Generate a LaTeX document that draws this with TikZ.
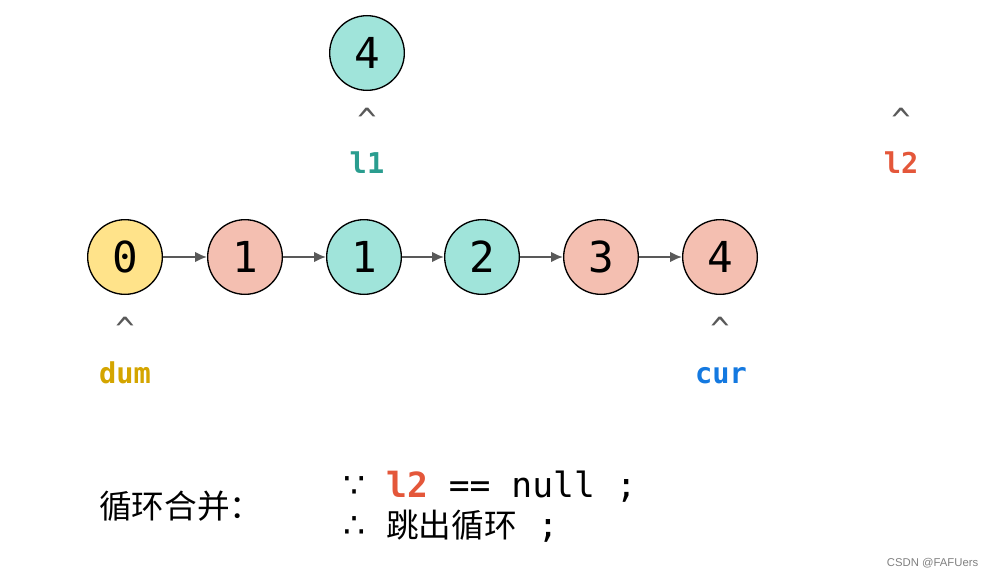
\documentclass[tikz,border=0pt]{standalone}
\usepackage{fontspec}
\newfontfamily\mono{DejaVu Sans Mono}
\newfontfamily\djv{DejaVu Sans}
\newfontfamily\cjk{Noto Sans CJK SC}
\newfontfamily\wm{Liberation Sans}
\usetikzlibrary{arrows.meta}
\definecolor{cyel}{HTML}{FFE38A}
\definecolor{cpink}{HTML}{F4BFB1}
\definecolor{cteal}{HTML}{A0E4DA}
\definecolor{carrow}{HTML}{595959}
\definecolor{lteal}{HTML}{2A9D8F}
\definecolor{lred}{HTML}{E4573A}
\definecolor{lgold}{HTML}{D4A500}
\definecolor{lblue}{HTML}{1479E0}
\begin{document}
\begin{tikzpicture}[x=0.75pt,y=-0.75pt,
  lnode/.style={circle,draw=black,line width=1pt,minimum size=56pt,inner sep=0pt,font=\mono\fontsize{32}{32}\selectfont},
  link/.style={draw=carrow,line width=1.4pt,-{Latex[length=9pt,width=8pt]}},
  caret/.style={text=carrow,font=\mono\fontsize{24}{24}\selectfont},
  lab/.style={anchor=base,inner sep=0pt,font=\mono\bfseries\fontsize{21.5}{21.5}\selectfont}]
\useasboundingbox (0,0) rectangle (995,578);
\node[lnode,fill=cyel]  (n0) at (125,257) {0};
\node[lnode,fill=cpink] (n1) at (245,257) {1};
\node[lnode,fill=cteal] (n2) at (364,257) {1};
\node[lnode,fill=cteal] (n3) at (482,257) {2};
\node[lnode,fill=cpink] (n4) at (601,257) {3};
\node[lnode,fill=cpink] (n5) at (720,257) {4};
\node[lnode,fill=cteal] (t4) at (367,53) {4};
\draw[link] (n0) -- (n1);
\draw[link] (n1) -- (n2);
\draw[link] (n2) -- (n3);
\draw[link] (n3) -- (n4);
\draw[link] (n4) -- (n5);
\node[caret] (c1) at (367,120) {\^{}};
\node[caret] (c2) at (901,120) {\^{}};
\node[caret] (c3) at (125,329) {\^{}};
\node[caret] (c4) at (720,329) {\^{}};
\node[lab,text=lteal] (l1) at (367,173) {l1};
\node[lab,text=lred] (l2) at (901,173) {l2};
\node[lab,text=lgold] (dum) at (125,383) {dum};
\node[lab,text=lblue] (cur) at (721,383) {cur};
\node[anchor=west,inner sep=0pt,font=\cjk\fontsize{24.5}{24.5}\selectfont] (title) at (99,506) {循环合并：};
\node[anchor=west,inner sep=0pt,font=\mono\fontsize{26}{26}\selectfont] (r1) at (343,487) {{\djv ∵} {\bfseries\color{lred}l2} == null ;};
\node[anchor=west,inner sep=0pt,font=\mono\fontsize{26}{26}\selectfont] (r2) at (343,526) {{\djv ∴} {\cjk\fontsize{24.5}{24.5}\selectfont 跳出循环} ;};
\node[anchor=east,text=gray,font=\wm\fontsize{8.5}{8.5}\selectfont] (wmk) at (983,563) {CSDN @FAFUers};
\end{tikzpicture}
\end{document}
